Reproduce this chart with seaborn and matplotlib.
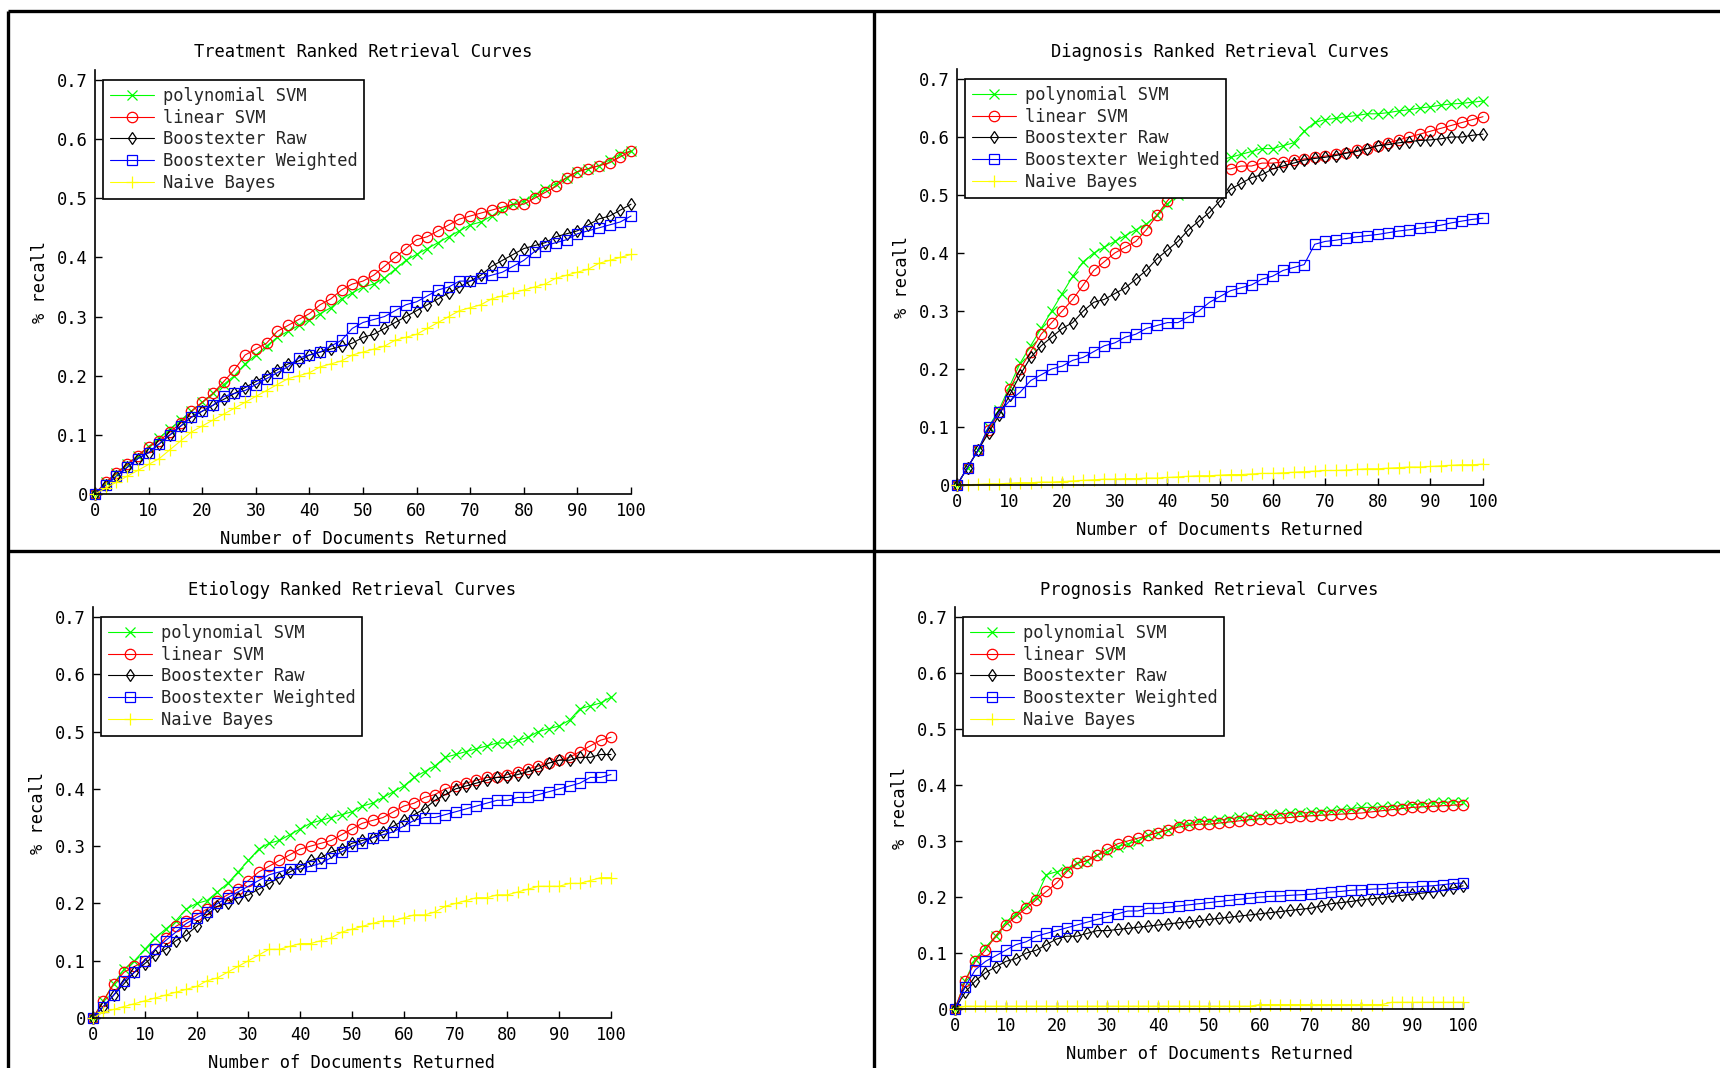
import numpy as np
import pandas as pd
import matplotlib
matplotlib.use("Agg")
import matplotlib.pyplot as plt
from matplotlib.lines import Line2D
import seaborn as sns

# === данные (шаг 2 документа) ===
X_DOCS = list(range(0, 101, 2))
SERIES = ["polynomial SVM", "linear SVM", "Boostexter Raw", "Boostexter Weighted", "Naive Bayes"]
COLORS = ["#00ff00", "#ff0000", "#000000", "#0000ff", "#ffff00"]
MARKERS = ["x", "o", "d", "s", "+"]
MSIZES = [6.5, 7.5, 6.5, 7, 8.5]

TITLES = ["Treatment Ranked Retrieval Curves", "Diagnosis Ranked Retrieval Curves",
          "Etiology Ranked Retrieval Curves", "Prognosis Ranked Retrieval Curves"]
X_TICKS = [0, 10, 20, 30, 40, 50, 60, 70, 80, 90, 100]
Y_TICKS = [0, 0.1, 0.2, 0.3, 0.4, 0.5, 0.6, 0.7]
Y_TICK_LABELS = ["0", "0.1", "0.2", "0.3", "0.4", "0.5", "0.6", "0.7"]

treat_poly = [0, 0.02, 0.035, 0.05, 0.065, 0.08, 0.095, 0.11, 0.125, 0.14, 0.155, 0.17, 0.185, 0.2, 0.22, 0.235,
              0.25, 0.265, 0.275, 0.285, 0.295, 0.305, 0.315, 0.33, 0.34, 0.35, 0.355, 0.365, 0.38, 0.395, 0.405,
              0.415, 0.425, 0.435, 0.445, 0.455, 0.46, 0.47, 0.48, 0.49, 0.495, 0.505, 0.515, 0.525, 0.535, 0.545,
              0.55, 0.555, 0.565, 0.575, 0.58]
treat_lin = [0, 0.02, 0.035, 0.05, 0.065, 0.08, 0.09, 0.105, 0.12, 0.14, 0.155, 0.17, 0.19, 0.21, 0.235, 0.245,
             0.255, 0.275, 0.285, 0.295, 0.305, 0.32, 0.33, 0.345, 0.355, 0.36, 0.37, 0.385, 0.4, 0.415, 0.43,
             0.435, 0.445, 0.455, 0.465, 0.47, 0.475, 0.48, 0.485, 0.49, 0.49, 0.5, 0.51, 0.52, 0.535, 0.545,
             0.55, 0.555, 0.56, 0.57, 0.58]
treat_raw = [0, 0.015, 0.03, 0.045, 0.06, 0.07, 0.085, 0.1, 0.115, 0.13, 0.14, 0.15, 0.16, 0.17, 0.18, 0.19,
             0.2, 0.21, 0.22, 0.225, 0.235, 0.24, 0.245, 0.25, 0.255, 0.265, 0.27, 0.28, 0.29, 0.3, 0.31,
             0.32, 0.33, 0.34, 0.35, 0.36, 0.37, 0.385, 0.395, 0.405, 0.415, 0.42, 0.425, 0.435, 0.44, 0.445,
             0.455, 0.465, 0.47, 0.48, 0.49]
treat_wgt = [0, 0.015, 0.03, 0.045, 0.06, 0.07, 0.085, 0.1, 0.115, 0.13, 0.14, 0.15, 0.165, 0.17, 0.175, 0.185,
             0.195, 0.205, 0.215, 0.23, 0.235, 0.24, 0.25, 0.26, 0.28, 0.29, 0.295, 0.3, 0.31, 0.32, 0.325,
             0.335, 0.345, 0.35, 0.36, 0.36, 0.365, 0.37, 0.375, 0.385, 0.395, 0.41, 0.42, 0.425, 0.43, 0.44,
             0.445, 0.45, 0.455, 0.46, 0.47]
treat_nb = [0, 0.01, 0.02, 0.03, 0.04, 0.05, 0.06, 0.075, 0.09, 0.105, 0.115, 0.125, 0.135, 0.145, 0.155, 0.165,
            0.175, 0.185, 0.195, 0.2, 0.205, 0.215, 0.22, 0.225, 0.235, 0.24, 0.245, 0.25, 0.26, 0.265, 0.27,
            0.28, 0.29, 0.3, 0.31, 0.315, 0.32, 0.33, 0.335, 0.34, 0.345, 0.35, 0.355, 0.365, 0.37, 0.375,
            0.38, 0.39, 0.395, 0.4, 0.405]

diag_poly = [0, 0.03, 0.06, 0.1, 0.13, 0.17, 0.21, 0.24, 0.27, 0.3, 0.33, 0.36, 0.385, 0.4, 0.41, 0.42,
             0.43, 0.44, 0.45, 0.465, 0.485, 0.5, 0.52, 0.535, 0.55, 0.56, 0.565, 0.57, 0.575, 0.58, 0.58,
             0.585, 0.59, 0.61, 0.625, 0.63, 0.632, 0.635, 0.637, 0.64, 0.64, 0.642, 0.645, 0.647, 0.65, 0.652,
             0.655, 0.657, 0.658, 0.66, 0.662]
diag_lin = [0, 0.03, 0.06, 0.095, 0.125, 0.165, 0.2, 0.23, 0.26, 0.28, 0.3, 0.32, 0.345, 0.37, 0.385, 0.4,
            0.41, 0.42, 0.44, 0.465, 0.49, 0.51, 0.525, 0.535, 0.54, 0.545, 0.545, 0.55, 0.55, 0.555, 0.555,
            0.557, 0.56, 0.562, 0.565, 0.567, 0.57, 0.573, 0.577, 0.58, 0.585, 0.59, 0.595, 0.6, 0.605, 0.61,
            0.615, 0.62, 0.625, 0.63, 0.635]
diag_raw = [0, 0.03, 0.06, 0.09, 0.12, 0.155, 0.19, 0.22, 0.24, 0.255, 0.27, 0.28, 0.3, 0.315, 0.32, 0.33,
            0.34, 0.355, 0.37, 0.39, 0.405, 0.42, 0.44, 0.455, 0.47, 0.49, 0.51, 0.52, 0.53, 0.535, 0.545,
            0.55, 0.555, 0.56, 0.563, 0.565, 0.568, 0.572, 0.575, 0.58, 0.585, 0.587, 0.59, 0.592, 0.594, 0.595,
            0.597, 0.6, 0.6, 0.603, 0.605]
diag_wgt = [0, 0.03, 0.06, 0.1, 0.125, 0.145, 0.16, 0.18, 0.19, 0.2, 0.205, 0.215, 0.22, 0.23, 0.24, 0.245,
            0.255, 0.26, 0.27, 0.275, 0.28, 0.28, 0.29, 0.3, 0.315, 0.325, 0.335, 0.34, 0.345, 0.355, 0.36,
            0.37, 0.375, 0.38, 0.415, 0.42, 0.422, 0.425, 0.428, 0.43, 0.432, 0.435, 0.438, 0.44, 0.443, 0.445,
            0.448, 0.452, 0.455, 0.458, 0.46]
diag_nb = [0, 0, 0.001, 0.002, 0.002, 0.003, 0.004, 0.004, 0.005, 0.005, 0.006, 0.007, 0.008, 0.009, 0.01, 0.01,
           0.011, 0.011, 0.012, 0.012, 0.013, 0.014, 0.015, 0.016, 0.016, 0.017, 0.018, 0.018, 0.019, 0.02, 0.02,
           0.021, 0.022, 0.023, 0.024, 0.025, 0.025, 0.026, 0.027, 0.028, 0.028, 0.029, 0.03, 0.031, 0.031, 0.032,
           0.033, 0.034, 0.035, 0.035, 0.036]

etio_poly = [0, 0.03, 0.06, 0.085, 0.1, 0.12, 0.14, 0.155, 0.17, 0.19, 0.2, 0.205, 0.22, 0.235, 0.255, 0.275,
             0.295, 0.305, 0.31, 0.32, 0.33, 0.34, 0.345, 0.35, 0.355, 0.36, 0.37, 0.375, 0.385, 0.395, 0.405,
             0.42, 0.43, 0.44, 0.455, 0.46, 0.465, 0.47, 0.475, 0.48, 0.48, 0.485, 0.49, 0.5, 0.505, 0.51,
             0.52, 0.54, 0.545, 0.55, 0.56]
etio_lin = [0, 0.03, 0.06, 0.08, 0.09, 0.1, 0.12, 0.14, 0.16, 0.17, 0.18, 0.19, 0.205, 0.215, 0.225, 0.24,
            0.255, 0.265, 0.275, 0.285, 0.295, 0.3, 0.305, 0.31, 0.32, 0.33, 0.34, 0.345, 0.35, 0.36, 0.37,
            0.375, 0.385, 0.39, 0.4, 0.405, 0.41, 0.415, 0.42, 0.42, 0.425, 0.43, 0.435, 0.44, 0.445, 0.45,
            0.455, 0.465, 0.475, 0.485, 0.49]
etio_raw = [0, 0.02, 0.04, 0.06, 0.08, 0.095, 0.11, 0.12, 0.135, 0.145, 0.16, 0.18, 0.195, 0.2, 0.21, 0.215,
            0.225, 0.235, 0.245, 0.255, 0.265, 0.275, 0.28, 0.29, 0.295, 0.305, 0.31, 0.315, 0.325, 0.335, 0.345,
            0.355, 0.365, 0.38, 0.39, 0.4, 0.405, 0.41, 0.415, 0.42, 0.42, 0.425, 0.43, 0.435, 0.445, 0.45,
            0.45, 0.455, 0.455, 0.46, 0.46]
etio_wgt = [0, 0.02, 0.04, 0.065, 0.08, 0.1, 0.12, 0.135, 0.15, 0.165, 0.175, 0.185, 0.2, 0.21, 0.22, 0.23,
            0.24, 0.25, 0.255, 0.26, 0.26, 0.265, 0.27, 0.28, 0.29, 0.3, 0.305, 0.315, 0.32, 0.325, 0.335,
            0.345, 0.35, 0.35, 0.355, 0.36, 0.365, 0.37, 0.375, 0.38, 0.38, 0.385, 0.385, 0.39, 0.395, 0.4,
            0.405, 0.41, 0.42, 0.42, 0.425]
etio_nb = [0, 0.01, 0.015, 0.02, 0.025, 0.03, 0.035, 0.04, 0.045, 0.05, 0.055, 0.065, 0.07, 0.08, 0.09, 0.1,
           0.11, 0.12, 0.12, 0.125, 0.13, 0.13, 0.135, 0.14, 0.15, 0.155, 0.16, 0.165, 0.17, 0.17, 0.175,
           0.18, 0.18, 0.185, 0.195, 0.2, 0.205, 0.21, 0.21, 0.215, 0.215, 0.22, 0.225, 0.23, 0.23, 0.23,
           0.235, 0.235, 0.24, 0.245, 0.245]

prog_poly = [0, 0.05, 0.09, 0.11, 0.13, 0.155, 0.17, 0.185, 0.2, 0.24, 0.245, 0.25, 0.26, 0.265, 0.275, 0.28,
             0.29, 0.295, 0.3, 0.31, 0.315, 0.32, 0.33, 0.33, 0.335, 0.335, 0.337, 0.34, 0.342, 0.343, 0.345,
             0.347, 0.348, 0.35, 0.35, 0.351, 0.352, 0.354, 0.356, 0.358, 0.36, 0.36, 0.361, 0.362, 0.363, 0.365,
             0.366, 0.368, 0.369, 0.37, 0.37]
prog_lin = [0, 0.05, 0.085, 0.105, 0.13, 0.15, 0.165, 0.18, 0.195, 0.21, 0.225, 0.245, 0.26, 0.265, 0.275, 0.285,
            0.295, 0.3, 0.305, 0.31, 0.315, 0.32, 0.325, 0.328, 0.33, 0.33, 0.332, 0.334, 0.336, 0.338, 0.34,
            0.34, 0.341, 0.342, 0.344, 0.345, 0.346, 0.347, 0.348, 0.349, 0.35, 0.352, 0.354, 0.356, 0.358, 0.36,
            0.361, 0.362, 0.363, 0.364, 0.365]
prog_raw = [0, 0.03, 0.05, 0.065, 0.075, 0.085, 0.09, 0.1, 0.105, 0.115, 0.125, 0.13, 0.13, 0.135, 0.14, 0.14,
            0.142, 0.144, 0.146, 0.148, 0.15, 0.152, 0.154, 0.156, 0.158, 0.16, 0.162, 0.164, 0.166, 0.168, 0.17,
            0.172, 0.174, 0.176, 0.178, 0.18, 0.184, 0.188, 0.19, 0.192, 0.195, 0.197, 0.199, 0.201, 0.203, 0.205,
            0.207, 0.209, 0.212, 0.216, 0.22]
prog_wgt = [0, 0.04, 0.07, 0.085, 0.095, 0.105, 0.115, 0.12, 0.13, 0.135, 0.14, 0.145, 0.15, 0.155, 0.16, 0.165,
            0.17, 0.175, 0.175, 0.18, 0.18, 0.182, 0.184, 0.186, 0.188, 0.19, 0.192, 0.194, 0.196, 0.198, 0.2,
            0.201, 0.202, 0.203, 0.204, 0.205, 0.207, 0.209, 0.21, 0.212, 0.213, 0.214, 0.215, 0.216, 0.217, 0.218,
            0.219, 0.22, 0.222, 0.224, 0.225]
prog_nb = [0, 0.005, 0.005, 0.005, 0.005, 0.005, 0.005, 0.005, 0.005, 0.005, 0.005, 0.005, 0.005, 0.005, 0.005, 0.005,
           0.005, 0.005, 0.005, 0.005, 0.005, 0.005, 0.005, 0.005, 0.005, 0.005, 0.005, 0.005, 0.005, 0.005, 0.008,
           0.008, 0.008, 0.008, 0.008, 0.008, 0.008, 0.008, 0.008, 0.008, 0.008, 0.008, 0.008, 0.012, 0.012, 0.012,
           0.012, 0.012, 0.012, 0.012, 0.012]

PANELS = [
    [treat_poly, treat_lin, treat_raw, treat_wgt, treat_nb],
    [diag_poly, diag_lin, diag_raw, diag_wgt, diag_nb],
    [etio_poly, etio_lin, etio_raw, etio_wgt, etio_nb],
    [prog_poly, prog_lin, prog_raw, prog_wgt, prog_nb],
]

# === геометрия (пиксели исходной картинки 1720x1068) ===
W, H = 1720, 1068
YTOP = 0.717
# left, right, y(0), y(0.7)
AX_PX = [(95, 631, 494, 80), (957, 1483, 485, 79), (93, 611, 1018, 617), (955, 1463, 1009, 617)]

sns.set_theme(style="white")
plt.rcParams["font.family"] = ["DejaVu Sans Mono", "DejaVu Sans"]
FS = 12.3

fig = plt.figure(figsize=(W / 100, H / 100), dpi=100)
fig.patch.set_facecolor("white")

for k, (l, r, y0, y7) in enumerate(AX_PX):
    h_px = (y0 - y7) * YTOP / 0.7
    ax = fig.add_axes([l / W, 1 - y0 / H, (r - l) / W, h_px / H])
    for vals, name, col, mk, ms in zip(PANELS[k], SERIES, COLORS, MARKERS, MSIZES):
        df = pd.DataFrame({"docs": X_DOCS, "recall": vals})
        sns.lineplot(data=df, x="docs", y="recall", ax=ax, color=col, marker=mk,
                     markersize=ms, mec=col, mfc="none", mew=0.9, lw=0.8,
                     label=name, sort=False, errorbar=None, clip_on=False)

    ax.set_xlim(0, 100)
    ax.set_ylim(0, YTOP)
    ax.set_xticks(X_TICKS)
    ax.set_xticklabels([str(t) for t in X_TICKS])
    ax.set_yticks(Y_TICKS)
    ax.set_yticklabels(Y_TICK_LABELS)
    ax.tick_params(direction="in", length=5, width=1, colors="black", labelsize=FS,
                   bottom=True, left=True)
    ax.tick_params(axis="x", pad=6)
    ax.tick_params(axis="y", pad=5)
    for side in ["top", "right"]:
        ax.spines[side].set_visible(False)
    for side in ["left", "bottom"]:
        ax.spines[side].set_color("black")
        ax.spines[side].set_linewidth(1.2)
    ax.set_facecolor("white")

    ax.set_title(TITLES[k], fontsize=FS, pad=9, color="black")
    ax.set_xlabel("Number of Documents Returned", fontsize=FS, color="black")
    ax.set_ylabel("% recall", fontsize=FS, color="black")
    ax.xaxis.set_label_coords(0.5, -45 / h_px)
    ax.xaxis.label.set_va("center")
    ax.yaxis.set_label_coords(-55 / (r - l), 0.5)
    ax.yaxis.label.set_va("center")
    ax.yaxis.label.set_ha("center")

    leg = ax.legend(loc="upper left", bbox_to_anchor=(8 / (r - l), 0.7 / YTOP), borderaxespad=0,
                    fontsize=FS, frameon=True, fancybox=False, edgecolor="black", framealpha=1,
                    handlelength=2.6, handletextpad=0.5, labelspacing=0.22, borderpad=0.4)
    leg.get_frame().set_linewidth(1.2)

# рамки между панелями
def px_line(x0, y0, x1, y1):
    fig.add_artist(Line2D([x0 / W, x1 / W], [1 - y0 / H, 1 - y1 / H], transform=fig.transFigure,
                          color="black", lw=2.4, solid_capstyle="butt"))

px_line(8, 11, W, 11)
px_line(8, 11, 8, H)
px_line(874, 11, 874, H)
px_line(8, 551, W, 551)

fig.savefig("out.png", dpi=100, facecolor="white")
